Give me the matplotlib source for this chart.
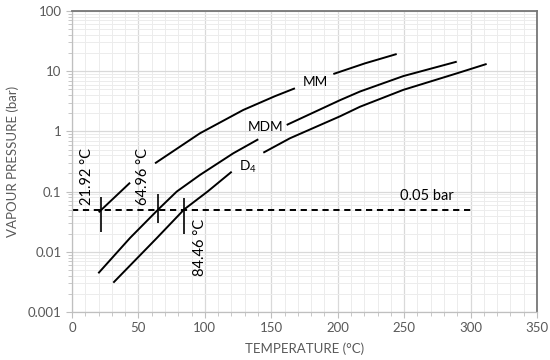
import numpy as np
import matplotlib
matplotlib.use("Agg")
import matplotlib.pyplot as plt
from matplotlib.ticker import LogLocator, MultipleLocator, FixedLocator, NullFormatter

plt.rcParams["font.family"] = ["Lato", "DejaVu Sans"]
plt.rcParams["mathtext.default"] = "regular"

nan = np.nan

# vapour pressure curves (nan = gap left for a label)
mm_temp = [20.1, 43.7, nan, 62.5, 96.3, 128.9, 152.8, 167.8, nan, 196.7, 220.5, 244.4]
mm_pres = [0.0453, 0.1406, nan, 0.295, 0.93, 2.27, 3.85, 5.2, nan, 8.98, 13.5, 19.3]

mdm_temp = [19.8, 43.7, 65.0, 78.8, 96.3, 121.4, 140.2, nan, 161.6, 201.7, 216.8, 249.4, 289.6]
mdm_pres = [0.0044, 0.017, 0.0508, 0.1, 0.189, 0.433, 0.74, nan, 1.28, 3.3, 4.6, 8.3, 14.4]

d4_temp = [31.1, 63.7, 84.5, 102.0, 120.2, nan, 144.0, 164.1, 201.7, 216.8, 249.4, 289.6, 312.1]
d4_pres = [0.00307, 0.0168, 0.0508, 0.1, 0.214, nan, 0.443, 0.77, 1.78, 2.57, 4.9, 9.2, 13.2]

# 0.05 bar reference line and the crossing temperatures
ref_pres = 0.05
ref_temp = [0, 300]
cross_temp = [21.92, 64.96, 84.46]
cross_low = [0.021, 0.030, 0.020]
cross_high = [0.081, 0.091, 0.078]

fig = plt.figure(figsize=(5.5, 3.6), dpi=100)
ax = fig.add_axes([72 / 550, 1 - 312 / 360, 465 / 550, 301 / 360])

ax.set_yscale("log")
ax.set_xlim(0, 350)
ax.set_ylim(0.001, 100)

grid_major = "#d9d9d9"
grid_minor = "#ececec"
ax.xaxis.set_major_locator(MultipleLocator(50))
ax.xaxis.set_minor_locator(MultipleLocator(10))
ax.yaxis.set_major_locator(FixedLocator([0.001, 0.01, 0.1, 1, 10, 100]))
ax.yaxis.set_minor_locator(LogLocator(base=10, subs=np.arange(2, 10)))
ax.yaxis.set_minor_formatter(NullFormatter())
ax.set_yticklabels(["0.001", "0.01", "0.1", "1", "10", "100"])
ax.grid(which="major", color=grid_major, lw=0.9)
ax.grid(which="minor", color=grid_minor, lw=0.7)
ax.set_axisbelow(True)

ax.tick_params(which="both", direction="out", color="#bfbfbf", labelcolor="#595959",
               labelsize=9.5)
ax.tick_params(which="major", length=4)
ax.tick_params(which="minor", length=3)
for side in ["left", "bottom"]:
    ax.spines[side].set_color("#bfbfbf")
    ax.spines[side].set_linewidth(0.9)
for side in ["top", "right"]:
    ax.spines[side].set_color("#767676")
    ax.spines[side].set_linewidth(1.3)

for t, p in [(mm_temp, mm_pres), (mdm_temp, mdm_pres), (d4_temp, d4_pres)]:
    ax.plot(t, p, color="black", lw=1.4, solid_capstyle="butt", solid_joinstyle="round")

ax.plot(ref_temp, [ref_pres, ref_pres], color="black", lw=1.4, dashes=(3.2, 2.4))
ax.vlines(cross_temp, cross_low, cross_high, color="black", lw=1.2)

txt = dict(color="black", fontsize=10.5, ha="center", va="center")
ax.text(11.3, 0.175, "21.92 °C", rotation=90, **txt)
ax.text(53.1, 0.175, "64.96 °C", rotation=90, **txt)
ax.text(96.0, 0.012, "84.46 °C", rotation=90, **txt)
ax.text(267, 0.085, "0.05 bar", **txt)
lbl = dict(color="black", fontsize=9.8, ha="center", va="center")
ax.text(183, 6.7, "MM", **lbl)
ax.text(145.6, 1.2, "MDM", **lbl)
ax.text(132.5, 0.26, "D$_4$", **lbl)

ax.set_xlabel("TEMPERATURE (°C)", color="#595959", fontsize=9.5, labelpad=6)
ax.set_ylabel("VAPOUR PRESSURE (bar)", color="#595959", fontsize=9.5, labelpad=6)

fig.savefig("out.png", dpi=100)
